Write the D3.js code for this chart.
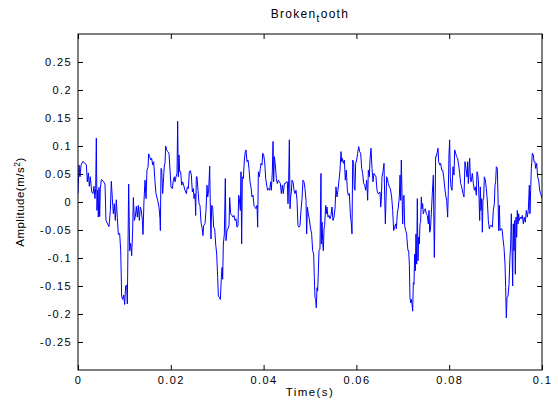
<!DOCTYPE html>
<html>
<head>
<meta charset="utf-8">
<script src="https://cdn.jsdelivr.net/npm/d3@7"></script>
<style>
  html, body { margin: 0; padding: 0; background: #fff; }
  svg { display: block; font-family: "Liberation Sans", Arial, sans-serif; }
  .tick text { font-size: 11px; letter-spacing: 1.4px; fill: #000; }
</style>
</head>
<body>
<svg id="chart" width="558" height="404"></svg>
<script>
// Axis ticks and labels
const xTicks = [0, 0.02, 0.04, 0.06, 0.08, 0.1];
const xTickLabels = ["0", "0.02", "0.04", "0.06", "0.08", "0.1"];
const yTicks = [-0.25, -0.2, -0.15, -0.1, -0.05, 0, 0.05, 0.1, 0.15, 0.2, 0.25];
const yTickLabels = ["-0.25", "-0.2", "-0.15", "-0.1", "-0.05", "0", "0.05", "0.1", "0.15", "0.2", "0.25"];

// Vibration record of the broken-tooth gear: [time (s), amplitude (m/s^2)]
const signal = [
  [0,0.015],[0.00022,0.066],[0.00043,0.045],[0.00065,0.066],[0.00101,0.072],[0.00144,0.070],[0.00180,0.066],[0.00201,0.036],[0.00223,0.052],[0.00244,0.028],
  [0.00266,0.045],[0.00295,0.018],[0.00323,0.015],[0.00345,0.028],[0.00366,0.006],[0.00381,0.024],[0.00395,0.114],[0.00409,-0.015],[0.00424,0.021],[0.00438,-0.027],
  [0.00453,0.026],[0.00467,-0.026],[0.00481,0.024],[0.00503,0.040],[0.00546,0.037],[0.00582,0.032],[0.00603,-0.033],[0.00639,-0.039],[0.00668,-0.044],[0.00697,-0.015],
  [0.00718,0.037],[0.00740,0.006],[0.00762,-0.021],[0.00783,-0.003],[0.00805,-0.033],[0.00826,0.004],[0.00848,-0.028],[0.00869,-0.058],[0.00898,-0.056],[0.00920,-0.087],
  [0.00941,-0.168],[0.00963,-0.174],[0.00984,-0.166],[0.01006,-0.183],[0.01027,-0.150],[0.01049,-0.148],[0.01063,-0.182],[0.01078,-0.075],[0.01092,0.032],[0.01114,-0.087],
  [0.01135,-0.074],[0.01157,-0.096],[0.01178,-0.050],[0.01193,0.008],[0.01214,-0.033],[0.01236,-0.026],[0.01257,-0.008],[0.01279,-0.027],[0.01300,-0.006],[0.01322,-0.033],
  [0.01343,-0.009],[0.01365,-0.015],[0.01387,-0.033],[0.01401,-0.058],[0.01422,0.002],[0.01444,0.039],[0.01466,0.006],[0.01487,0.057],[0.01509,0.062],[0.01523,0.086],
  [0.01545,0.081],[0.01566,0.075],[0.01588,0.078],[0.01609,0.066],[0.01631,0.072],
  [0.01660,0.036],[0.01681,0.015],[0.01717,0.003],[0.01746,-0.009],[0.01767,-0.030],[0.01775,-0.051],[0.01789,0.060],[0.01803,0.058],[0.01825,0.015],[0.01846,0.045],
  [0.01861,0.066],[0.01875,0.069],[0.01889,0.100],[0.01911,0.093],[0.01933,0.090],[0.01961,0.087],[0.01983,0.057],[0.02004,0.027],[0.02033,0.024],[0.02055,0.039],
  [0.02076,0.045],[0.02091,0.036],[0.02112,0.045],[0.02134,0.051],[0.02148,0.144],[0.02162,0.045],[0.02177,0.084],[0.02191,0.054],[0.02213,0.054],[0.02234,0.030],
  [0.02256,0.036],[0.02277,0.030],[0.02306,0.021],[0.02335,0.015],[0.02356,0.027],[0.02378,0.024],[0.02399,0.054],[0.02421,0.056],[0.02443,0.048],[0.02464,0.018],
  [0.02486,0.024],[0.02500,0.006],[0.02522,0.015],[0.02536,-0.024],[0.02550,0.045],[0.02565,0.045],[0.02586,0.021],[0.02608,-0.003],[0.02629,-0.006],[0.02651,-0.036],
  [0.02672,-0.045],[0.02694,-0.060],[0.02708,-0.042],[0.02737,-0.039],[0.02759,-0.015],[0.02780,0.030],[0.02795,0.009],[0.02816,0.021],[0.02838,0.064],[0.02852,-0.009],
  [0.02866,-0.066],[0.02881,-0.006],[0.02902,-0.009],[0.02924,-0.045],[0.02946,-0.048],[0.02967,-0.075],[0.02989,-0.093],[0.03010,-0.135],[0.03025,-0.168],[0.03046,-0.170],
  [0.03068,-0.174],[0.03089,-0.135],[0.03104,-0.117],[0.03118,-0.138],[0.03132,-0.075],[0.03154,-0.057],[0.03175,0.042],[0.03190,-0.069],[0.03211,-0.051],[0.03233,-0.048],
  [0.03254,-0.042],[0.03269,0.008],[0.03290,-0.021],
  [0.03319,-0.024],[0.03341,-0.027],[0.03362,-0.024],[0.03384,-0.033],[0.03405,-0.030],[0.03427,-0.045],[0.03448,-0.042],[0.03463,0.012],[0.03477,0.006],[0.03499,-0.015],
  [0.03513,0.054],[0.03527,-0.075],[0.03542,0.045],[0.03563,0.042],[0.03585,0.075],[0.03606,0.090],[0.03621,0.093],[0.03642,0.072],[0.03664,0.075],[0.03685,0.060],
  [0.03707,0.036],[0.03728,0.027],[0.03750,0.009],[0.03772,0.012],[0.03793,-0.006],[0.03815,-0.009],[0.03836,-0.012],[0.03858,-0.006],[0.03872,-0.045],[0.03887,0.054],
  [0.03908,0.045],[0.03930,0.060],[0.03944,0.069],[0.03966,0.066],[0.03980,0.087],[0.04001,0.084],[0.04023,0.072],[0.04045,0.042],[0.04066,0.030],[0.04088,0.021],
  [0.04109,0.024],[0.04131,0.021],[0.04152,0.036],[0.04167,0.021],[0.04188,0.054],[0.04203,0.108],[0.04217,0.036],[0.04231,0.081],[0.04253,0.066],[0.04274,0.042],
  [0.04296,0.033],[0.04318,0.039],[0.04339,0.036],[0.04361,0.033],[0.04382,0.015],[0.04404,0.030],[0.04425,0.015],[0.04447,0.033],[0.04468,0.033],[0.04490,0.036],
  [0.04511,0.036],[0.04526,-0.003],[0.04540,0.039],[0.04555,0.111],[0.04569,-0.012],[0.04583,0.009],[0.04598,0.018],[0.04612,0.039],[0.04634,0.036],[0.04655,0.021],
  [0.04677,0.015],[0.04698,0.021],[0.04720,0.003],[0.04741,-0.042],[0.04763,-0.045],[0.04785,-0.042],[0.04806,-0.015],[0.04828,0.006],[0.04849,0.039],[0.04871,0.036],
  [0.04892,0.024],[0.04914,0.003],[0.04928,-0.057],[0.04943,-0.009],[0.04964,-0.021],
  [0.04978,-0.027],[0.05014,-0.048],[0.05036,-0.057],[0.05057,-0.087],[0.05079,-0.093],[0.05093,-0.135],[0.05108,-0.171],[0.05122,-0.174],[0.05136,-0.189],[0.05151,-0.153],
  [0.05165,-0.159],[0.05180,-0.123],[0.05194,-0.087],[0.05215,-0.084],[0.05237,0.051],[0.05244,-0.075],[0.05259,-0.036],[0.05273,-0.069],[0.05287,-0.087],[0.05302,-0.048],
  [0.05316,-0.042],[0.05338,-0.006],[0.05352,-0.021],[0.05366,-0.009],[0.05388,-0.027],[0.05409,-0.024],[0.05431,-0.030],[0.05453,-0.024],[0.05474,-0.009],[0.05496,-0.033],
  [0.05517,-0.027],[0.05539,-0.012],[0.05560,0.027],[0.05582,0.009],[0.05603,0.021],[0.05625,0.039],[0.05647,0.057],[0.05668,0.090],[0.05682,0.072],[0.05697,0.078],
  [0.05718,0.069],[0.05740,0.075],[0.05761,0.039],[0.05783,0.057],[0.05805,0.021],[0.05826,0.012],[0.05848,0.015],[0.05869,-0.021],[0.05891,-0.039],[0.05905,-0.057],
  [0.05920,0.075],[0.05941,0.069],[0.05955,0.024],[0.05970,0.021],[0.05984,0.069],[0.06006,0.075],[0.06027,0.087],[0.06049,0.099],[0.06070,0.090],[0.06092,0.087],
  [0.06114,0.060],[0.06135,0.051],[0.06157,0.033],[0.06178,0.030],[0.06200,0.021],[0.06221,0.039],[0.06243,0.003],[0.06257,0.057],[0.06279,0.045],[0.06293,0.075],
  [0.06315,0.096],[0.06336,0.060],[0.06358,0.036],[0.06379,0.051],[0.06401,0.048],[0.06422,0.045],[0.06444,0.021],[0.06466,0.015],[0.06487,0.015],[0.06509,0.018],
  [0.06523,-0.009],[0.06537,0.003],[0.06552,0.045],[0.06573,0.054],[0.06595,0.069],[0.06609,0.012],[0.06624,-0.039],[0.06638,0.003],[0.06652,0.045],[0.06667,0.042],
  [0.06688,0.033],[0.06710,0.027],[0.06731,0.024],
  [0.06760,0.009],[0.06782,-0.015],[0.06803,-0.051],[0.06825,-0.045],[0.06846,-0.039],[0.06861,-0.048],[0.06882,-0.021],[0.06904,-0.009],[0.06925,0.009],[0.06940,0.048],
  [0.06954,0.003],[0.06968,0.075],[0.06983,0.015],[0.06997,-0.039],[0.07011,0.009],[0.07026,0.012],[0.07040,-0.042],[0.07062,-0.051],[0.07083,-0.057],[0.07098,-0.075],
  [0.07112,-0.087],[0.07126,-0.087],[0.07141,-0.111],[0.07155,-0.171],[0.07170,-0.180],[0.07184,-0.174],[0.07198,-0.183],[0.07213,-0.195],[0.07227,-0.144],[0.07241,-0.147],
  [0.07256,-0.093],[0.07270,-0.123],[0.07284,-0.057],[0.07299,-0.111],[0.07313,0.006],[0.07327,-0.105],[0.07342,-0.063],[0.07356,-0.075],[0.07371,-0.039],[0.07385,-0.036],
  [0.07399,0.009],[0.07414,-0.012],[0.07428,-0.003],[0.07442,-0.021],[0.07464,-0.015],[0.07485,-0.012],[0.07507,-0.021],[0.07529,-0.024],[0.07550,-0.039],[0.07565,-0.015],
  [0.07579,-0.054],[0.07593,-0.051],[0.07615,-0.021],[0.07636,0.015],[0.07658,0.048],[0.07679,-0.099],[0.07694,-0.015],[0.07708,0.081],[0.07723,0.081],[0.07737,0.087],
  [0.07759,0.096],[0.07773,0.072],[0.07795,0.066],[0.07816,0.069],[0.07838,0.057],[0.07859,0.057],[0.07881,0.045],[0.07902,0.027],[0.07924,0.012],[0.07945,0.003],
  [0.07967,-0.027],[0.07981,0.021],[0.07996,0.087],[0.08010,0.111],[0.08024,0.045],[0.08039,0.027],[0.08060,0.021],[0.08082,0.063],[0.08103,0.048],[0.08118,0.093],
  [0.08139,0.087],[0.08161,0.081],[0.08182,0.078],[0.08204,0.066],[0.08226,0.051],[0.08247,0.033],[0.08269,0.027],
  [0.08297,0.015],[0.08319,0.009],[0.08340,0.072],[0.08362,0.060],[0.08384,0.045],[0.08398,0.072],[0.08412,0.033],[0.08427,0.057],[0.08441,0.078],[0.08455,0.045],
  [0.08470,0.036],[0.08484,0.042],[0.08499,0.051],[0.08520,0.033],[0.08542,0.021],[0.08563,0.027],[0.08585,0.012],[0.08599,0.054],[0.08613,0.051],[0.08628,0.039],
  [0.08642,0.009],[0.08657,-0.033],[0.08671,0.027],[0.08685,-0.015],[0.08700,0.006],[0.08714,-0.054],[0.08728,0.003],[0.08743,0.006],[0.08757,0.045],[0.08779,0.039],
  [0.08800,0.024],[0.08815,0.009],[0.08829,-0.009],[0.08843,-0.033],[0.08865,-0.048],[0.08886,-0.042],[0.08908,-0.042],[0.08930,-0.045],[0.08951,-0.015],[0.08973,-0.003],
  [0.08987,0.030],[0.09001,0.036],[0.09016,0.063],[0.09037,0.060],[0.09052,0.009],[0.09066,-0.051],[0.09081,-0.006],[0.09095,-0.051],[0.09116,-0.048],[0.09138,-0.048],
  [0.09160,-0.066],[0.09181,-0.081],[0.09203,-0.111],[0.09217,-0.153],[0.09231,-0.207],[0.09246,-0.171],[0.09267,-0.168],[0.09289,-0.147],[0.09310,-0.099],[0.09325,-0.075],
  [0.09339,-0.021],[0.09353,-0.075],[0.09368,-0.150],[0.09382,-0.039],[0.09396,-0.087],[0.09411,-0.033],[0.09425,-0.129],[0.09440,-0.027],[0.09454,-0.063],[0.09468,-0.015],
  [0.09483,-0.039],[0.09497,-0.021],[0.09511,-0.033],[0.09533,-0.027],[0.09555,-0.030],[0.09576,-0.024],[0.09598,-0.039],[0.09619,-0.027],[0.09641,-0.036],[0.09662,-0.015],
  [0.09684,-0.027],[0.09705,-0.015],[0.09727,0.030],[0.09741,-0.021],[0.09756,0.021],[0.09770,0.060],[0.09792,0.087],[0.09813,0.084],[0.09828,0.072],[0.09849,0.072],
  [0.09863,0.060],[0.09885,0.069],[0.09907,0.045],[0.09928,0.039],[0.09950,0.021],[0.09971,0.015],[0.09993,0.009],[0.1,0.006]
];

const svg = d3.select("#chart");
const plot = { left: 78, right: 542, top: 34, bottom: 370 };

svg.append("rect").attr("width", 558).attr("height", 404).attr("fill", "#fff");

const x = d3.scaleLinear().domain([0, 0.1]).range([plot.left, plot.right]);
const y = d3.scaleLinear().domain([-0.3, 0.3]).range([plot.bottom, plot.top]);

// Clip the trace to the axes box
svg.append("clipPath").attr("id", "plot-clip")
  .append("rect")
  .attr("x", plot.left).attr("y", plot.top)
  .attr("width", plot.right - plot.left).attr("height", plot.bottom - plot.top);

const line = d3.line().x(d => x(d[0])).y(d => y(d[1]));

svg.append("path")
  .datum(signal)
  .attr("clip-path", "url(#plot-clip)")
  .attr("fill", "none")
  .attr("stroke", "#0000ff")
  .attr("stroke-width", 1)
  .attr("stroke-linejoin", "round")
  .attr("d", line);

// Axes with inward ticks on all four sides
const tickLen = 5;
const xLabel = d => xTickLabels[xTicks.indexOf(d)];
const yLabel = d => yTickLabels[yTicks.indexOf(d)];

const gBottom = svg.append("g")
  .attr("transform", `translate(0,${plot.bottom})`)
  .call(d3.axisBottom(x).tickValues(xTicks).tickFormat(xLabel)
    .tickSizeInner(-tickLen).tickSizeOuter(0).tickPadding(6));
const gTop = svg.append("g")
  .attr("transform", `translate(0,${plot.top})`)
  .call(d3.axisTop(x).tickValues(xTicks).tickFormat("")
    .tickSizeInner(-tickLen).tickSizeOuter(0));
const gLeft = svg.append("g")
  .attr("transform", `translate(${plot.left},0)`)
  .call(d3.axisLeft(y).tickValues(yTicks).tickFormat(yLabel)
    .tickSizeInner(-tickLen).tickSizeOuter(0).tickPadding(6));
const gRight = svg.append("g")
  .attr("transform", `translate(${plot.right},0)`)
  .call(d3.axisRight(y).tickValues(yTicks).tickFormat("")
    .tickSizeInner(-tickLen).tickSizeOuter(0));

[gBottom, gTop, gLeft, gRight].forEach(g => {
  g.select(".domain").remove();
  g.selectAll(".tick line").attr("stroke", "#000");
  g.selectAll(".tick text").attr("font-family", null).attr("font-size", null);
});
gBottom.attr("font-family", null).attr("font-size", null);
gLeft.attr("font-family", null).attr("font-size", null);

// Axes box
svg.append("rect")
  .attr("x", plot.left).attr("y", plot.top)
  .attr("width", plot.right - plot.left).attr("height", plot.bottom - plot.top)
  .attr("fill", "none").attr("stroke", "#000").attr("stroke-width", 1);

// Title with subscripted "t"
const title = svg.append("text")
  .attr("x", (plot.left + plot.right) / 2).attr("y", 18)
  .attr("text-anchor", "middle")
  .attr("font-size", 12).attr("letter-spacing", 1.3);
title.append("tspan").text("Broken");
title.append("tspan").attr("dy", 4).attr("font-size", 10).text("t");
title.append("tspan").attr("dy", -4).text("ooth");

// Axis titles
svg.append("text")
  .attr("x", (plot.left + plot.right) / 2).attr("y", 396)
  .attr("text-anchor", "middle")
  .attr("font-size", 11.5).attr("letter-spacing", 1.4)
  .text("Time(s)");

const yTitle = svg.append("text")
  .attr("transform", `translate(24,${(plot.top + plot.bottom) / 2}) rotate(-90)`)
  .attr("text-anchor", "middle")
  .attr("font-size", 11.5).attr("letter-spacing", 0.5);
yTitle.append("tspan").text("Amplitude(m/s");
yTitle.append("tspan").attr("dy", -4).attr("font-size", 8.5).text("2");
yTitle.append("tspan").attr("dy", 4).text(")");
</script>
</body>
</html>
